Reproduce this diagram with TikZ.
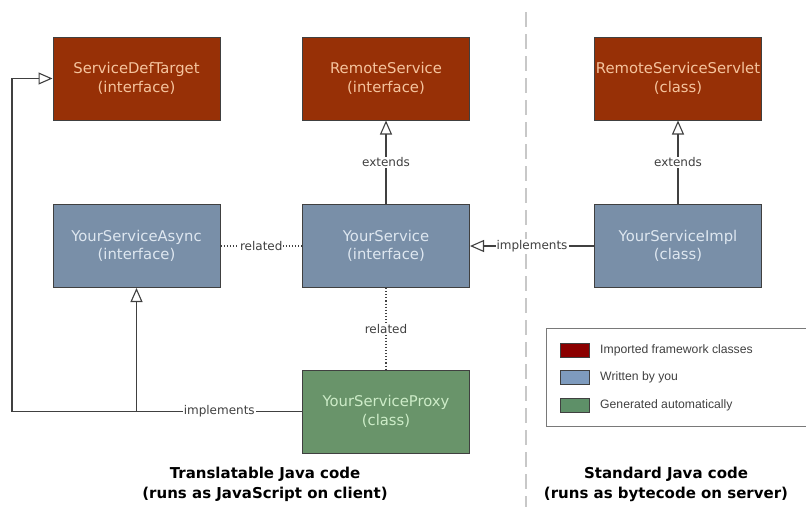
\documentclass[tikz,border=0pt]{standalone}
\usepackage{fontspec}
\setmainfont{DejaVu Sans}
\newfontfamily\legendfont{Liberation Sans}
\usetikzlibrary{arrows.meta}

\definecolor{importedfill}{RGB}{151,48,6}
\definecolor{importedtext}{RGB}{245,196,158}
\definecolor{ownfill}{RGB}{121,143,168}
\definecolor{owntext}{RGB}{222,231,240}
\definecolor{genfill}{RGB}{105,148,106}
\definecolor{gentext}{RGB}{205,236,200}
\definecolor{linegray}{RGB}{64,64,64}
\definecolor{splitgray}{RGB}{200,200,200}

\begin{document}
\begin{tikzpicture}[x=1pt,y=-1pt,
  cls/.style={draw=linegray, line width=1pt, minimum width=167pt, minimum height=83pt,
    inner sep=0pt, align=center, font=\fontsize{14.8}{18.5}\selectfont},
  imported/.style={cls, fill=importedfill, text=importedtext},
  own/.style={cls, fill=ownfill, text=owntext},
  generated/.style={cls, fill=genfill, text=gentext},
  uses/.style={draw=linegray, line width=1.1pt, -{Triangle[open,length=14pt,width=12pt]}},
  rel/.style={draw=linegray, line width=1.1pt, dotted},
  lbl/.style={fill=white, text=linegray, inner sep=1pt, font=\fontsize{12}{14}\selectfont},
  swatch/.style={draw=linegray, line width=0.8pt, minimum width=29pt, minimum height=14pt, inner sep=0pt},
  legtext/.style={anchor=west, inner sep=0pt, text=linegray, font=\legendfont\fontsize{12.2}{14}\selectfont},
  caption/.style={align=center, font=\bfseries\fontsize{15}{20}\selectfont}]
\useasboundingbox (0,0) rectangle (806,507);

% client / server split
\draw[splitgray, line width=2pt, dash pattern=on 15pt off 7pt] (526,12) -- (526,507);

% classes
\node[imported] (sdt) at (136.5,78.5) {ServiceDefTarget\\(interface)};
\node[imported] (remote) at (386,78.5) {RemoteService\\(interface)};
\node[imported] (servlet) at (678,78.5) {RemoteServiceServlet\\(class)};
\node[own] (async) at (136.5,246) {YourServiceAsync\\(interface)};
\node[own] (service) at (386,246) {YourService\\(interface)};
\node[own] (impl) at (678,246) {YourServiceImpl\\(class)};
\node[generated] (proxy) at (386,411.5) {YourServiceProxy\\(class)};

% relations
\draw[uses] (service) -- node[lbl]{extends} (remote);
\draw[uses] (impl) -- node[lbl]{extends} (servlet);
\draw[uses] (impl) -- node[lbl]{implements} (service);
\draw[rel] (async) -- node[lbl]{related} (service);
\draw[rel] (service) -- node[lbl]{related} (proxy);

\coordinate (branch) at (136.5,411.5);
\coordinate (corner) at (12,411.5);
\draw[uses] (proxy.west) -- node[lbl]{implements} (branch) -- (corner) |- (sdt.west);
\draw[uses] (branch) -- (async.south);

% legend
\draw[linegray!70, line width=0.8pt] (806,328) -- (546,328) -- (546,426) -- (806,426);
\node[swatch, fill={rgb,255:red,139;green,0;blue,0}] (legimp) at (574.5,350) {};
\node[swatch, fill={rgb,255:red,126;green,155;blue,190}] (legown) at (574.5,377) {};
\node[swatch, fill={rgb,255:red,94;green,144;blue,104}] (leggen) at (574.5,405) {};
\node[legtext] (legimptext) at (600,350) {Imported framework classes};
\node[legtext] (legowntext) at (600,377) {Written by you};
\node[legtext] (leggentext) at (600,405) {Generated automatically};

% captions
\node[caption] (client) at (265,484) {Translatable Java code\\(runs as JavaScript on client)};
\node[caption] (server) at (666,484) {Standard Java code\\(runs as bytecode on server)};
\end{tikzpicture}
\end{document}
